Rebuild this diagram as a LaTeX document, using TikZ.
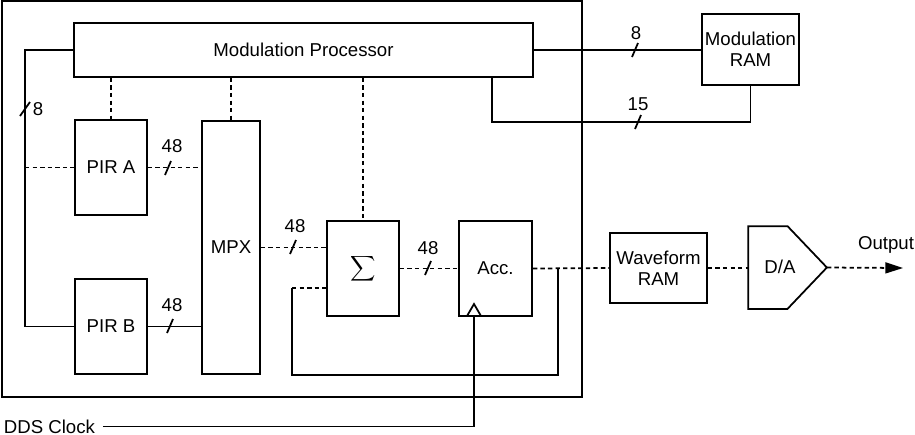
\documentclass[tikz,border=0pt]{standalone}
\usepackage{fontspec}
\setmainfont{Liberation Sans}
\usepackage{tikz}
\usetikzlibrary{arrows.meta}
\usetikzlibrary{calc,positioning}

\begin{document}
\begin{tikzpicture}[x=0.02cm,y=-0.02cm,line width=1pt,
		font=\fontsize{10.6}{12}\selectfont,
		sig/.style={dash pattern=on 2.5pt off 1.8pt}]
			\useasboundingbox (0,0) rectangle (915,434);

			% chip outline
			\draw (2,1) rectangle (582,397);

			\begin{scope}[every node/.style={draw,inner sep=0pt,align=center}]
				\node[minimum width=9.18cm,minimum height=1.08cm] (modproc) at (303.5,50) {Modulation Processor};
				\node[minimum width=1.44cm,minimum height=1.9cm] (pira) at (111,167.5) {PIR A};
				\node[minimum width=1.44cm,minimum height=1.9cm] (pirb) at (111,326.5) {PIR B};
				\node[minimum width=1.16cm,minimum height=5.06cm] (mpx) at (231,247.5) {MPX};
				\node[minimum width=1.44cm,minimum height=1.9cm,font=\fontsize{12.5}{14}\selectfont] (sigma) at (363,268.5) {$\displaystyle\sum$};
				\node[minimum width=1.46cm,minimum height=1.9cm] (acc) at (495.5,268.5) {Acc.};
				\node[minimum width=1.94cm,minimum height=1.4cm] (wram) at (658.5,268) {Waveform\\RAM};
				\node[minimum width=1.94cm,minimum height=1.42cm] (mram) at (750.5,49.5) {Modulation\\RAM};
			\end{scope}

			% D/A converter
			\node[minimum width=1.54cm,minimum height=1.62cm,inner sep=0pt] (dac) at (787.5,267.5) {};
			\draw (dac.north west) -- (dac.north) -- (dac.east) -- (dac.south) -- (dac.south west) -- cycle;
			\node (datext) at (780,267) {D/A};

			\node[anchor=west,inner sep=0pt] (ddsclk) at (3,426.5) {DDS Clock};
			\node (outtext) at (886,245) {Output};

			\coordinate (lbus) at (25,50);
			\coordinate (rbus) at (492,122);
			\coordinate (tap) at (558,268);
			\coordinate (fb) at (292,288);
			\coordinate (clk) at (474,316);
			\coordinate (out) at (903,268);

			% solid connections
			\draw (modproc.west) -- (lbus) |- (pirb.west);
			\draw (modproc.east) -- (modproc.east -| mram.west);
			\draw (rbus |- modproc.south) -- (rbus) -| (mram.south);
			\draw (pirb.east) -- (pirb.east -| mpx.west);
			\draw (tap) -- (tap |- mpx.south) -| (fb);
			\draw ([xshift=0.14cm]ddsclk.east) -| (clk);
			\draw (clk) ++(-7,0) -- ++(7,-12) -- ++(7,12);

			% dotted connections
			\begin{scope}[sig]
				\draw (pira.west -| lbus) -- (pira.west);
				\draw (pira.north |- modproc.south) -- (pira.north);
				\draw (mpx.north |- modproc.south) -- (mpx.north);
				\draw (sigma.north |- modproc.south) -- (sigma.north);
				\draw (pira.east) -- (pira.east -| mpx.west);
				\draw (mpx.east) -- (mpx.east -| sigma.west);
				\draw (sigma.east) -- (acc.west);
				\draw (fb) -- (fb -| sigma.west);
				\draw (acc.east) -- (wram.west);
				\draw (wram.east) -- (wram.east -| dac.west);
				\draw[-{Triangle[length=10pt,width=6.2pt]}] (dac.east) -- (out);
			\end{scope}

			% bus widths
			\foreach \x/\y/\d in {25/109/5,168/168/3,170/326/3,293/247/3,428/268/3,635/50/3,638/122/3}
				\draw (\x,\y) ++(-\d,7) -- ++(2*\d,-14);
			\node (w8a) at (38,109) {8};
			\node (w48a) at (172,146) {48};
			\node (w48b) at (172,305) {48};
			\node (w48c) at (295,226) {48};
			\node (w48d) at (428,248) {48};
			\node (w8b) at (636,33) {8};
			\node (w15) at (638,104) {15};
		\end{tikzpicture}
\end{document}
